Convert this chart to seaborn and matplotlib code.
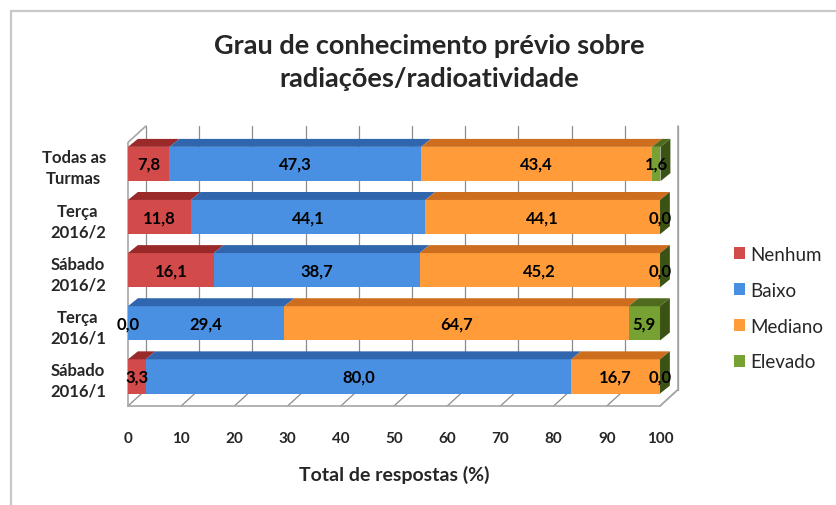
import numpy as np
import matplotlib
matplotlib.use("Agg")
import matplotlib.pyplot as plt
from matplotlib.patches import Polygon, Patch
from matplotlib.lines import Line2D
import seaborn as sns

# dados
turmas = ["Todas as\nTurmas", "Terça\n2016/2", "Sábado\n2016/2", "Terça\n2016/1", "Sábado\n2016/1"]
niveis = ["Nenhum", "Baixo", "Mediano", "Elevado"]
nenhum = [7.8, 11.8, 16.1, 0.0, 3.3]
baixo = [47.3, 44.1, 38.7, 29.4, 80.0]
mediano = [43.4, 44.1, 45.2, 64.7, 16.7]
elevado = [1.6, 0.0, 0.0, 5.9, 0.0]
xticks = [0, 10, 20, 30, 40, 50, 60, 70, 80, 90, 100]

cores = ["#D24A4A", "#4A90E2", "#FF9B38", "#77A132"]
cores_topo = ["#9A2A2A", "#2F66AE", "#CC6E1E", "#4E6B1E"]
cor_lado = "#3B5215"

sns.set_style("white")
plt.rcParams["font.family"] = ["Lato", "DejaVu Sans"]

series = np.array([nenhum, baixo, mediano, elevado])
acum = np.cumsum(series, axis=0)
inicio = acum - series

fig = plt.figure(figsize=(8.36, 5.06), dpi=100)
ax = fig.add_axes([0.1531, 0.1957, 0.6364, 0.5534])

largura = 0.645
y_baixo, y_topo = 4.556, -0.716
# profundidade da parede e das barras (unidades de dados)
dxw, dyw = 3.38, 0.31
dxb, dyb = 1.85, 0.15

# grelha e paredes 3D
cinza = "#8C8C8C"
for t in xticks:
    ax.plot([t + dxw, t + dxw], [y_baixo - dyw, y_topo], color=cinza, lw=0.9, zorder=0, clip_on=False)
    ax.plot([t, t + dxw], [y_baixo, y_baixo - dyw], color=cinza, lw=0.9, zorder=0, clip_on=False)
ax.plot([0, 100], [y_baixo, y_baixo], color="#A6A6A6", lw=1.2, zorder=0, clip_on=False)
ax.plot([0, 0, dxw], [y_baixo, y_topo + dyw, y_topo], color="#A6A6A6", lw=1.2, zorder=0, clip_on=False)
ax.plot([100, 100 + dxw, 100 + dxw], [y_baixo, y_baixo - dyw, y_topo], color="#A6A6A6", lw=1.2,
        zorder=0, clip_on=False)

# barras empilhadas (do total para o primeiro nível)
for k in range(3, -1, -1):
    sns.barplot(x=acum[k], y=turmas, orient="h", color=cores[k], saturation=1,
                width=largura, linewidth=0, ax=ax, zorder=2)

# faces superiores e lateral
for i in range(len(turmas)):
    topo = i - largura / 2
    for k in range(4):
        a, b = inicio[k, i], acum[k, i]
        if b - a <= 0:
            continue
        ax.add_patch(Polygon([(a, topo), (b, topo), (b + dxb, topo - dyb), (a + dxb, topo - dyb)],
                             closed=True, facecolor=cores_topo[k], edgecolor="none", zorder=3, clip_on=False))
    fim = acum[3, i]
    ax.add_patch(Polygon([(fim, topo), (fim + dxb, topo - dyb), (fim + dxb, topo + largura - dyb),
                          (fim, topo + largura)],
                         closed=True, facecolor=cor_lado, edgecolor="none", zorder=3, clip_on=False))

# rótulos dos valores
for i in range(len(turmas)):
    for k in range(4):
        v = series[k, i]
        xc = inicio[k, i] + v / 2
        ax.text(xc, i, f"{v:.1f}".replace(".", ","), ha="center", va="center",
                fontsize=12, fontweight="bold", color="black", zorder=5)

ax.set_xlim(0, 100)
ax.set_ylim(y_baixo, y_topo)
ax.set_xticks(xticks)
ax.set_xticklabels([str(t) for t in xticks], fontsize=11, fontweight="bold")
ax.set_yticks(range(len(turmas)))
ax.set_yticklabels(turmas, fontsize=12, fontweight="bold", ma="center", linespacing=1.35)
ax.tick_params(axis="x", length=0, pad=18)
ax.tick_params(axis="y", length=0, pad=16)
ax.set_xlabel("Total de respostas (%)", fontsize=14, fontweight="bold", labelpad=14)
ax.set_ylabel("")
for s in ax.spines.values():
    s.set_visible(False)

fig.text(0.513, 0.877, "Grau de conhecimento prévio sobre\nradiações/radioatividade", ha="center",
         va="center", fontsize=19.5, fontweight="bold", linespacing=1.45)

handles = [Patch(facecolor=c, edgecolor="none") for c in cores]
fig.legend(handles, niveis, loc="center left", bbox_to_anchor=(0.862, 0.389), frameon=False,
           fontsize=13.5, handlelength=0.6, handleheight=0.6, handletextpad=0.3, labelspacing=1.0,
           borderpad=0.2)

# moldura do gráfico
fig.add_artist(Line2D([0.0132, 1.0], [0.976, 0.976], color="#C8C8C8", lw=1.6))
fig.add_artist(Line2D([0.0132, 0.0132], [0.976, 0.0], color="#C8C8C8", lw=1.6))

fig.savefig("out.png", dpi=100)
